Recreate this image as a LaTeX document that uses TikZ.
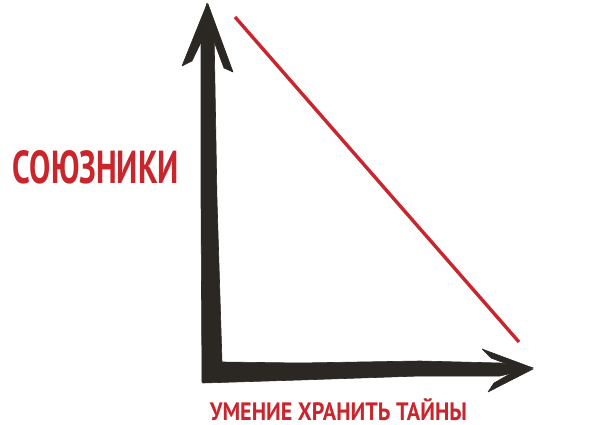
\documentclass[tikz,border=0pt]{standalone}
\usepackage{fontspec}
\setmainfont{PT Sans}
\usepackage{graphicx}
\definecolor{ink}{HTML}{2B2823}
\definecolor{redl}{HTML}{C8262C}
\begin{document}
\begin{tikzpicture}[x=1pt,y=-1pt,
  brush/.style={fill=ink,draw=ink,line width=0.6pt,line join=round},
  lbl/.style={inner sep=0pt,text=redl,font=\bfseries}]
\useasboundingbox (0,0) rectangle (600,425);
% axes shaft (L shape)
\path[brush] (201,30) -- (207,3) -- (214,30) -- (217,200) -- (222,362)
  -- (300,363) -- (420,361) -- (500,363) -- (533,368) -- (500,376)
  -- (420,376) -- (300,380) -- (203,383) -- (202,382) -- (201,200) -- cycle;
% vertical arrowhead barbs
\path[brush] (207,4) -- (182,66) -- (192,61) -- (204,36) -- cycle;
\path[brush] (208,4) -- (233,72) -- (224,68) -- (212,36) -- cycle;
% horizontal arrowhead barbs
\path[brush] (533,368) -- (482,349) -- (491,358) -- (515,367) -- cycle;
\path[brush] (533,369) -- (488,392) -- (494,383) -- (515,371) -- cycle;
% red line
\coordinate (r1) at (235,17);
\coordinate (r2) at (519,342);
\draw[redl,line width=3.4pt] (r1) -- (r2);
% labels
\node[lbl] (yl) at (96,167) {\resizebox{166pt}{33pt}{СОЮЗНИКИ}};
\node[lbl] (xl) at (338.5,410) {\resizebox{257pt}{22pt}{УМЕНИЕ ХРАНИТЬ ТАЙНЫ}};
\end{tikzpicture}
\end{document}
